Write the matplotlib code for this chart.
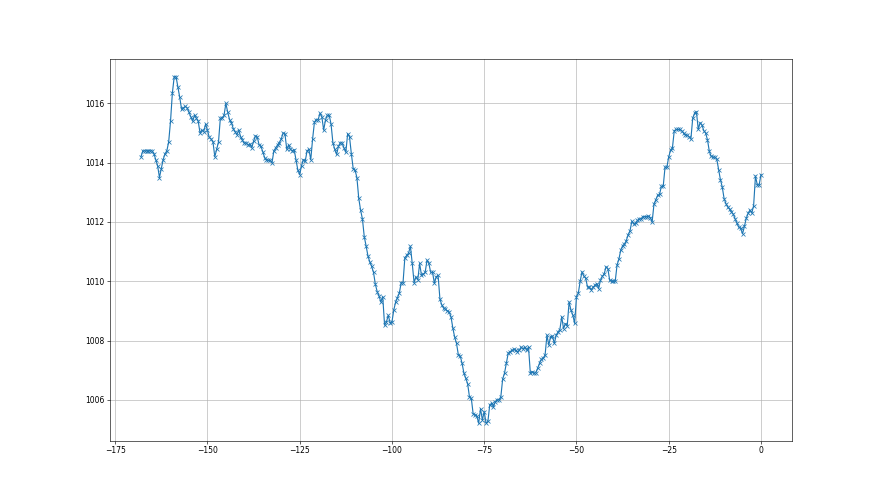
import matplotlib
matplotlib.use("Agg")
import matplotlib.pyplot as plt
import numpy as np

# hours before now, one reading every half hour
hours = np.arange(-168, 0.5, 0.5)

# pressure readings (hPa)
pressure = [
    1014.2, 1014.4, 1014.4, 1014.4, 1014.4, 1014.4, 1014.4, 1014.3, 1014.1, 1013.9,
    1013.5, 1013.8, 1014.1, 1014.3, 1014.4, 1014.7, 1015.4, 1016.35, 1016.9, 1016.9,
    1016.55, 1016.2, 1015.8, 1015.85, 1015.9, 1015.85, 1015.7, 1015.55, 1015.4, 1015.6,
    1015.5, 1015.4, 1015.0, 1015.1, 1015.05, 1015.3, 1015.1, 1014.85, 1014.8, 1014.7,
    1014.2, 1014.45, 1014.7, 1015.5, 1015.5, 1015.6, 1016.0, 1015.7, 1015.45, 1015.35,
    1015.15, 1015.05, 1014.95, 1015.1, 1014.87, 1014.76, 1014.65, 1014.67, 1014.6, 1014.62,
    1014.5, 1014.72, 1014.9, 1014.87, 1014.6, 1014.55, 1014.37, 1014.17, 1014.1, 1014.08,
    1014.08, 1014.0, 1014.4, 1014.5, 1014.6, 1014.68, 1014.8, 1015.0, 1014.98, 1014.45,
    1014.6, 1014.45, 1014.4, 1014.44, 1014.1, 1013.75, 1013.6, 1013.9, 1014.1, 1014.05,
    1014.4, 1014.45, 1014.1, 1014.8, 1015.37, 1015.45, 1015.45, 1015.67, 1015.55, 1015.1,
    1015.45, 1015.6, 1015.6, 1015.3, 1014.67, 1014.45, 1014.28, 1014.55, 1014.67, 1014.67,
    1014.5, 1014.35, 1014.98, 1014.87, 1014.3, 1013.8, 1013.75, 1013.5, 1012.8, 1012.4,
    1012.1, 1011.5, 1011.19, 1010.85, 1010.65, 1010.5, 1010.3, 1009.9, 1009.65, 1009.5,
    1009.3, 1009.48, 1008.52, 1008.63, 1008.85, 1008.6, 1008.63, 1009.03, 1009.3, 1009.45,
    1009.6, 1009.95, 1009.95, 1010.8, 1010.87, 1010.95, 1011.18, 1010.6, 1009.95, 1010.15,
    1010.05, 1010.6, 1010.2, 1010.24, 1010.3, 1010.71, 1010.6, 1010.3, 1010.3, 1009.93,
    1010.15, 1010.2, 1009.4, 1009.2, 1009.09, 1009.06, 1009.0, 1008.97, 1008.8, 1008.42,
    1008.11, 1007.9, 1007.51, 1007.48, 1007.23, 1006.9, 1006.72, 1006.55, 1006.1, 1006.05,
    1005.53, 1005.5, 1005.45, 1005.21, 1005.7, 1005.32, 1005.6, 1005.21, 1005.27, 1005.83,
    1005.88, 1005.77, 1005.94, 1006.0, 1006.0, 1006.1, 1006.7, 1006.9, 1007.23, 1007.57,
    1007.62, 1007.67, 1007.7, 1007.67, 1007.62, 1007.67, 1007.78, 1007.72, 1007.78, 1007.67,
    1007.78, 1006.9, 1006.95, 1006.9, 1006.92, 1007.07, 1007.24, 1007.37, 1007.4, 1007.52,
    1008.18, 1007.85, 1008.13, 1008.15, 1007.9, 1008.18, 1008.29, 1008.37, 1008.8, 1008.4,
    1008.57, 1008.5, 1009.3, 1009.03, 1008.86, 1008.58, 1009.48, 1009.6, 1010.0, 1010.32,
    1010.17, 1010.1, 1009.8, 1009.8, 1009.72, 1009.8, 1009.86, 1009.92, 1009.75, 1010.03,
    1010.17, 1010.24, 1010.49, 1010.43, 1010.03, 1010.0, 1010.0, 1010.0, 1010.55, 1010.75,
    1011.05, 1011.2, 1011.25, 1011.37, 1011.57, 1011.7, 1012.02, 1011.93, 1011.95, 1012.05,
    1012.1, 1012.1, 1012.18, 1012.18, 1012.18, 1012.2, 1012.15, 1012.0, 1012.6, 1012.75,
    1012.9, 1012.93, 1013.2, 1013.2, 1013.85, 1013.85, 1014.2, 1014.42, 1014.5, 1015.08,
    1015.12, 1015.12, 1015.12, 1015.08, 1015.0, 1014.93, 1014.93, 1014.88, 1014.8, 1015.5,
    1015.67, 1015.72, 1015.12, 1015.35, 1015.27, 1015.08, 1015.0, 1014.77, 1014.38, 1014.21,
    1014.19, 1014.19, 1014.13, 1013.77, 1013.43, 1013.18, 1012.79, 1012.62, 1012.5, 1012.43,
    1012.34, 1012.26, 1012.1, 1011.95, 1011.82, 1011.78, 1011.6, 1011.85, 1012.12, 1012.29,
    1012.4, 1012.3, 1012.55, 1013.55, 1013.25, 1013.25, 1013.6,
]

# big figure, saved at low dpi -> 880x495
fig = plt.figure(figsize=(16, 9))
plt.plot(hours, pressure, marker="x")
plt.grid()

plt.savefig("out.png", dpi=55)
